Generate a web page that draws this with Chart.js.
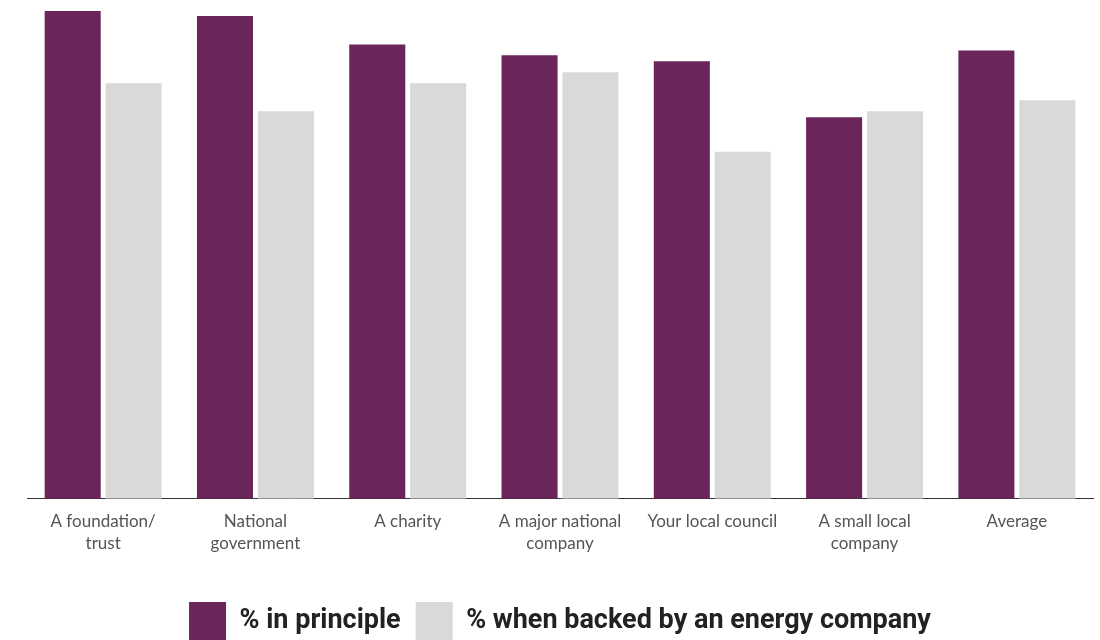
<!DOCTYPE html>
<html>
<head>
<meta charset="utf-8">
<script src="https://cdn.jsdelivr.net/npm/chart.js@4.4.1/dist/chart.umd.min.js"></script>
<style>
  html, body { margin: 0; padding: 0; background: #fff; }
  #wrap { position: relative; width: 1100px; height: 640px; }
</style>
</head>
<body>
<div id="wrap"><canvas id="chart" width="1100" height="640"></canvas></div>
<script>
// categories + series (percent)
const categories = [
  ['A foundation/', 'trust'],
  ['National', 'government'],
  'A charity',
  ['A major national', 'company'],
  'Your local council',
  ['A small local', 'company'],
  'Average'
];
const inPrinciple = [97.8, 96.8, 91.1, 88.9, 87.7, 76.5, 89.9];
const backedByEnergy = [83.3, 77.7, 83.3, 85.5, 69.6, 77.7, 79.9];

const PURPLE = '#6a255b';
const GREY = '#d9d9d9';

const ctx = document.getElementById('chart');
new Chart(ctx, {
  type: 'bar',
  data: {
    labels: categories,
    datasets: [
      { label: '% in principle', data: inPrinciple, backgroundColor: PURPLE },
      { label: '% when backed by an energy company', data: backedByEnergy, backgroundColor: GREY }
    ]
  },
  options: {
    responsive: false,
    animation: false,
    layout: { padding: { left: 27, right: 7, top: 0, bottom: -10 } },
    datasets: {
      bar: { categoryPercentage: 0.8, barPercentage: 0.92 }
    },
    plugins: {
      tooltip: { enabled: false },
      legend: {
        position: 'bottom',
        labels: {
          boxWidth: 37,
          boxHeight: 38,
          padding: 15,
          color: '#222',
          font: { family: 'Roboto', weight: 'bold', size: 27 }
        }
      }
    },
    scales: {
      x: {
        grid: { display: false, drawTicks: false },
        border: { display: true, color: '#333', width: 1 },
        ticks: {
          color: '#555',
          padding: 12,
          maxRotation: 0,
          autoSkip: false,
          font: { family: 'Lato', size: 17, lineHeight: 1.3 }
        },
        // extra room between tick labels and the legend
        afterFit (scale) { scale.height += 20; }
      },
      y: {
        display: false,
        min: 0,
        max: 100
      }
    }
  }
});
</script>
</body>
</html>
